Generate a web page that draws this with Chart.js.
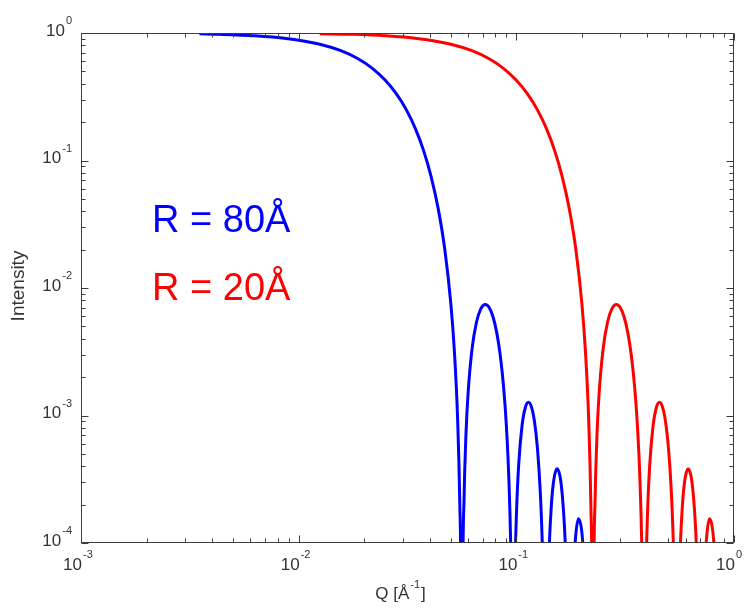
<!DOCTYPE html>
<html><head><meta charset="utf-8">
<script src="https://cdn.jsdelivr.net/npm/chart.js@4.4.1/dist/chart.umd.min.js"></script>
<style>html,body{margin:0;padding:0;background:#fff;}canvas{display:block;}</style>
</head><body>
<canvas id="c" width="744" height="608"></canvas>
<script>
// ---- data ----
const qBlue = [0.0035,0.004375,0.00625,0.00875,0.0125,0.015625,0.01875,0.021875,0.025,0.028125,0.03125,0.034375,0.0375,0.040625,0.04375,0.046875,0.05,0.051875,0.05375,0.055,0.055625,0.056163,0.05675,0.0575,0.05875,0.06,0.0625,0.065625,0.06875,0.072,0.075,0.078125,0.08125,0.084375,0.0875,0.09,0.0925,0.094375,0.095625,0.096563,0.0975,0.09875,0.1,0.1025,0.10625,0.11,0.11375,0.1175,0.12125,0.125,0.12875,0.13125,0.13375,0.1363,0.13875,0.14125,0.145,0.14875,0.15375,0.15875,0.1625,0.16625,0.17,0.173125,0.175825,0.17875,0.1825,0.1875,0.193125,0.19875,0.2025,0.20625,0.21];
const intensityBlue = [0.9844,0.9758,0.9511,0.9060,0.8163,0.7263,0.6278,0.5262,0.4265,0.3331,0.2495,0.1778,0.1195,0.07448,0.04194,0.02032,0.007583,0.003291,0.000928,0.000199,0.0000412,1e-7,0.0000438,0.000217,0.000740,0.001476,0.003255,0.005409,0.006890,0.007425,0.007038,0.005954,0.004488,0.002960,0.001633,0.000831,0.000302,0.0000828,0.0000146,1e-7,0.0000133,0.0000687,0.000159,0.000410,0.000835,0.001156,0.001268,0.001158,0.000888,0.000554,0.000256,0.000114,0.0000280,1e-7,0.0000223,0.0000815,0.000203,0.000315,0.000382,0.000333,0.000241,0.000138,0.0000529,0.0000112,1e-7,0.0000115,0.0000511,0.000115,0.000155,0.000132,0.0000949,0.0000528,0.0000188];
const qRed = [0.0125,0.0175,0.025,0.035,0.05,0.0625,0.075,0.0875,0.1,0.1125,0.125,0.1375,0.15,0.1625,0.175,0.1875,0.2,0.2075,0.215,0.22,0.2225,0.22465,0.227,0.23,0.235,0.24,0.25,0.2625,0.275,0.288,0.3,0.3125,0.325,0.3375,0.35,0.36,0.37,0.3775,0.3825,0.38625,0.39,0.395,0.4,0.41,0.425,0.44,0.455,0.47,0.485,0.5,0.515,0.525,0.535,0.5452,0.555,0.565,0.58,0.595,0.615,0.635,0.65,0.665,0.68,0.6925,0.7033,0.715,0.73,0.75,0.7725,0.795,0.81,0.825,0.84];
const intensityRed = [0.9876,0.9758,0.9511,0.9060,0.8163,0.7263,0.6278,0.5262,0.4265,0.3331,0.2495,0.1778,0.1195,0.07448,0.04194,0.02032,0.007583,0.003291,0.000928,0.000199,0.0000412,1e-7,0.0000438,0.000217,0.000740,0.001476,0.003255,0.005409,0.006890,0.007425,0.007038,0.005954,0.004488,0.002960,0.001633,0.000831,0.000302,0.0000828,0.0000146,1e-7,0.0000133,0.0000687,0.000159,0.000410,0.000835,0.001156,0.001268,0.001158,0.000888,0.000554,0.000256,0.000114,0.0000280,1e-7,0.0000223,0.0000815,0.000203,0.000315,0.000382,0.000333,0.000241,0.000138,0.0000529,0.0000112,1e-7,0.0000115,0.0000511,0.000115,0.000155,0.000132,0.0000949,0.0000528,0.0000188];
const seriesLabels = ['R = 80Å', 'R = 20Å'];
const seriesColors = ['#0000ff', '#ff0000'];
const xTickValues = [0.001, 0.01, 0.1, 1];
const xTickExponents = ['-3', '-2', '-1', '0'];
const yTickValues = [0.0001, 0.001, 0.01, 0.1, 1];
const yTickExponents = ['-4', '-3', '-2', '-1', '0'];
const xTitle = ['Q [Å', '-1', ']'];
const yTitle = 'Intensity';

const FONT = "'Liberation Sans', Arial, Helvetica, sans-serif";
const TXT = '#333333';

function toPoints(xs, ys) { return xs.map((v, i) => ({ x: v, y: ys[i] })); }

// align: 'right' => whole label ends at x ; 'base' => base "10" ends at x
function drawPower(ctx, base, exp, x, yMid, align) {
  ctx.font = '17px ' + FONT;
  const wb = ctx.measureText(base).width;
  ctx.font = '11px ' + FONT;
  const we = ctx.measureText(exp).width;
  const total = wb + we + 1;
  let left = align === 'right' ? x - total : x - wb;
  ctx.textBaseline = 'middle';
  ctx.textAlign = 'left';
  ctx.font = '17px ' + FONT;
  ctx.fillText(base, left, yMid);
  ctx.font = '11px ' + FONT;
  ctx.fillText(exp, left + wb + 1, yMid - 10);
}

const axesPlugin = {
  id: 'axesFrame',
  afterDatasetsDraw(chart) {
    const { ctx, chartArea: a, scales } = chart;
    const xs = scales.x, ys = scales.y;
    const L = Math.round(a.left) + 0.5, R = Math.round(a.right) - 0.5;
    const T = Math.round(a.top) + 0.5, B = Math.round(a.bottom) - 0.5;
    ctx.save();
    ctx.strokeStyle = '#3c3c3c';
    ctx.lineWidth = 1;
    ctx.beginPath();
    for (let e = -3; e <= 0; e++) {
      for (let m = 1; m <= 9; m++) {
        const v = m * Math.pow(10, e);
        if (v > 1.0000001) break;
        const px = Math.round(xs.getPixelForValue(v)) + 0.5;
        const len = m === 1 ? 7 : 4;
        ctx.moveTo(px, B); ctx.lineTo(px, B - len);
        ctx.moveTo(px, T); ctx.lineTo(px, T + len);
      }
    }
    for (let e = -4; e <= 0; e++) {
      for (let m = 1; m <= 9; m++) {
        const v = m * Math.pow(10, e);
        if (v > 1.0000001) break;
        const py = Math.round(ys.getPixelForValue(v)) + 0.5;
        const len = m === 1 ? 7 : 4;
        ctx.moveTo(L, py); ctx.lineTo(L + len, py);
        ctx.moveTo(R, py); ctx.lineTo(R - len, py);
      }
    }
    ctx.stroke();
    ctx.strokeRect(L, T, R - L, B - T);
    ctx.restore();
  },
  afterDraw(chart) {
    const { ctx, chartArea: a, scales } = chart;
    const xs = scales.x, ys = scales.y;
    ctx.save();
    ctx.fillStyle = TXT;
    xTickValues.forEach((v, i) => {
      drawPower(ctx, '10', xTickExponents[i], xs.getPixelForValue(v) + 1, a.bottom + 22, 'base');
    });
    yTickValues.forEach((v, i) => {
      drawPower(ctx, '10', yTickExponents[i], a.left - 9, ys.getPixelForValue(v) - 2, 'right');
    });
    // x title
    ctx.font = '17px ' + FONT;
    const w1 = ctx.measureText(xTitle[0]).width;
    const w3 = ctx.measureText(xTitle[2]).width;
    ctx.font = '11px ' + FONT;
    const w2 = ctx.measureText(xTitle[1]).width;
    const tot = w1 + w2 + w3 + 2;
    let x0 = (a.left + a.right) / 2 - 7 - tot / 2;
    const yb = a.bottom + 51;
    ctx.textBaseline = 'middle'; ctx.textAlign = 'left';
    ctx.font = '17px ' + FONT;
    ctx.fillText(xTitle[0], x0, yb);
    ctx.font = '11px ' + FONT;
    ctx.fillText(xTitle[1], x0 + w1 + 1, yb - 9);
    ctx.font = '17px ' + FONT;
    ctx.fillText(xTitle[2], x0 + w1 + w2 + 2, yb);
    // y title
    ctx.save();
    ctx.translate(19, (a.top + a.bottom) / 2 - 2);
    ctx.rotate(-Math.PI / 2);
    ctx.font = '19px ' + FONT;
    ctx.textAlign = 'center'; ctx.textBaseline = 'middle';
    ctx.fillText(yTitle, 0, 0);
    ctx.restore();
    // series annotations
    ctx.font = '38px ' + FONT;
    ctx.textAlign = 'left'; ctx.textBaseline = 'alphabetic';
    ctx.fillStyle = seriesColors[0];
    ctx.fillText(seriesLabels[0], a.left + 71, a.top + 199);
    ctx.fillStyle = seriesColors[1];
    ctx.fillText(seriesLabels[1], a.left + 71, a.top + 267);
    ctx.restore();
  }
};

new Chart(document.getElementById('c'), {
  type: 'scatter',
  data: {
    datasets: [
      { label: seriesLabels[0], data: toPoints(qBlue, intensityBlue), showLine: true, borderColor: seriesColors[0], backgroundColor: seriesColors[0], borderWidth: 3, pointRadius: 0, cubicInterpolationMode: 'monotone' },
      { label: seriesLabels[1], data: toPoints(qRed, intensityRed), showLine: true, borderColor: seriesColors[1], backgroundColor: seriesColors[1], borderWidth: 3, pointRadius: 0, cubicInterpolationMode: 'monotone' }
    ]
  },
  options: {
    responsive: false,
    animation: false,
    devicePixelRatio: 1,
    events: [],
    layout: { padding: { left: 81, right: 10, top: 33, bottom: 65 } },
    plugins: { legend: { display: false }, tooltip: { enabled: false } },
    scales: {
      x: { type: 'logarithmic', min: 0.001, max: 1, display: false },
      y: { type: 'logarithmic', min: 0.0001, max: 1, display: false }
    }
  },
  plugins: [axesPlugin]
});
</script>
</body></html>
